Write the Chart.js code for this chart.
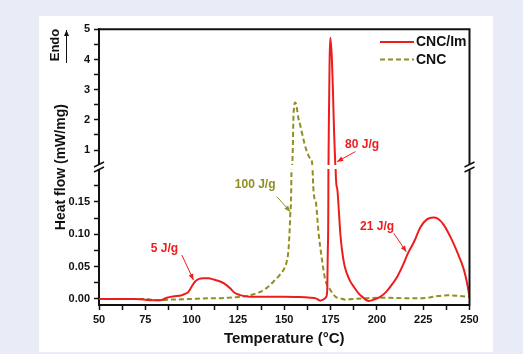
<!DOCTYPE html>
<html>
<head>
<meta charset="utf-8">
<script src="https://cdn.jsdelivr.net/npm/chart.js@4.4.0/dist/chart.umd.min.js"></script>
<style>
  html, body { margin: 0; padding: 0; width: 523px; height: 354px; overflow: hidden; background: #e8ecf6; }
  #wrap { position: absolute; left: 39px; top: 16px; width: 454px; height: 336px; background: #fff; }
</style>
</head>
<body>
<div id="wrap"><canvas id="dsc" width="454" height="336"></canvas></div>
<script>
// DSC curves (temperature in °C, heat flow in mW/mg)
const tempCncIm = [50, 60, 70, 75, 78, 83, 86.6, 90, 94.7, 96.5, 98.3, 100, 101.9, 104, 106.5, 109, 112, 115.4, 117.5, 120.8,
  123, 126.2, 131.6, 142, 150, 158, 164, 167, 169.5, 171, 172.7, 173.2, 173.55, 173.85, 173.95, 174.1, 174.5, 174.9, 175.7, 176.3,
  176.9, 177.5, 177.75, 178.5, 179.5, 180.3, 181.2, 182.5, 184, 185.5, 187.5, 190, 192, 195.5, 198.5, 202, 205, 207.3, 211, 214,
  217, 220, 223.5, 227, 230.5, 233, 236, 239.7, 243, 247, 249, 250];
const flowCncIm = [0, 0, 0, -0.001, -0.002, -0.002, 0.002, 0.004, 0.0057, 0.008, 0.011, 0.019, 0.027, 0.031, 0.032, 0.032, 0.03, 0.027, 0.024, 0.0165,
  0.01, 0.006, 0.0036, 0.0036, 0.0036, 0.003, 0.002, 0.001, -0.0026, -0.001, 0.0036, 0.014, 0.08, 0.21, 1.0, 2.0, 4.04, 4.72, 4.04, 2.93,
  1.6, 0.62, 0.2, 0.172, 0.135, 0.1, 0.075, 0.052, 0.038, 0.028, 0.019, 0.009, 0.0036, -0.003, -0.001, 0.0036, 0.011, 0.019, 0.0345, 0.052,
  0.072, 0.088, 0.111, 0.123, 0.126, 0.124, 0.115, 0.096, 0.075, 0.045, 0.02, 0.003];

const tempCnc = [50, 60, 70, 75, 78, 82, 88, 95, 100, 110, 115, 120, 125, 129.8, 133, 137, 141, 144.2, 147.5, 150.5,
  151.5, 152.3, 152.8, 153.2, 153.8, 154.1, 154.6, 155, 156, 156.8, 157.5, 158.6, 159.6, 161, 162.2, 164, 165, 165.3, 166.8, 168.6,
  170.4, 172.2, 174.9, 177.6, 180.3, 183, 187, 193, 202, 210, 220, 226, 229, 233, 238, 243, 250];
const flowCnc = [0, 0, 0, 0, -0.001, -0.002, -0.001, -0.0005, 0, 0.001, 0.001, 0.002, 0.003, 0.0046, 0.007, 0.011, 0.018, 0.027, 0.037, 0.05,
  0.06, 0.076, 0.1, 0.127, 0.179, 0.3, 1.0, 2.16, 2.58, 2.4, 2.1, 1.83, 1.56, 1.2, 0.95, 0.72, 0.6, 0.2, 0.153, 0.1,
  0.06, 0.029, 0.014, 0.0036, 0.001, -0.001, 0, 0.001, 0.002, 0.0015, 0.001, 0.0015, 0.0026, 0.0045, 0.0057, 0.005, 0.003];

const seriesNames = ['CNC/Im', 'CNC'];
const xTicks = [50, 62.5, 75, 87.5, 100, 112.5, 125, 137.5, 150, 162.5, 175, 187.5, 200, 212.5, 225, 237.5, 250];
const yLowTicks = [0, 0.025, 0.05, 0.075, 0.1, 0.125, 0.15, 0.175];
const yHighTicks = [1, 1.5, 2, 2.5, 3, 3.5, 4, 4.5, 5];

const RED = '#ee1d1d';
const OLIVE = '#8f8f24';
const INK = '#111';
const FONT = "'Liberation Sans', Arial, sans-serif";

function pts(xs, ys) {
  return xs.map((x, i) => ({ x: x, y: ys[i] }));
}

// each curve is drawn twice, once per half of the broken y axis
function curve(name, xs, ys, color, dash, axis) {
  return {
    label: name,
    data: pts(xs, ys),
    yAxisID: axis,
    borderColor: color,
    borderWidth: 2,
    borderDash: dash,
    pointRadius: 0,
    cubicInterpolationMode: 'monotone',
    fill: false
  };
}

const annotations = [
  { text: '5 J/g', color: RED, axis: 'yLow', at: [85.3, 0.078], from: [94.7, 0.068], to: [101, 0.0294] },
  { text: '100 J/g', color: OLIVE, axis: 'yLow', at: [134.3, 0.176], from: [146.1, 0.158], to: [153.2, 0.135] },
  { text: '80 J/g', color: RED, axis: 'yHigh', at: [192, 1.17], from: [188.4, 0.95], to: [178.5, 0.616] },
  { text: '21 J/g', color: RED, axis: 'yLow', at: [200.1, 0.112], from: [209.1, 0.1016], to: [215.9, 0.073] }
];

function arrow(ctx, x1, y1, x2, y2, color) {
  ctx.strokeStyle = color;
  ctx.fillStyle = color;
  ctx.lineWidth = 1;
  ctx.setLineDash([]);
  ctx.beginPath();
  ctx.moveTo(x1, y1);
  ctx.lineTo(x2, y2);
  ctx.stroke();
  const a = Math.atan2(y2 - y1, x2 - x1), L = 6, W = 2.5;
  ctx.beginPath();
  ctx.moveTo(x2, y2);
  ctx.lineTo(x2 - L * Math.cos(a) + W * Math.sin(a), y2 - L * Math.sin(a) - W * Math.cos(a));
  ctx.lineTo(x2 - L * Math.cos(a) - W * Math.sin(a), y2 - L * Math.sin(a) + W * Math.cos(a));
  ctx.closePath();
  ctx.fill();
}

const brokenAxis = {
  id: 'brokenAxis',
  beforeDatasetDraw(chart, args) {
    const ds = chart.data.datasets[args.index];
    const a = chart.chartArea;
    const s = chart.scales[ds.yAxisID];
    const top = ds.yAxisID === 'yLow' ? s.top + 2 : a.top - 4;
    const bottom = ds.yAxisID === 'yHigh' ? s.bottom - 2 : a.bottom + 4;
    const ctx = chart.ctx;
    ctx.save();
    ctx.beginPath();
    ctx.rect(a.left - 3, top, a.right - a.left + 6, bottom - top);
    ctx.clip();
  },
  afterDatasetDraw(chart) {
    chart.ctx.restore();
  },
  afterDraw(chart) {
    const ctx = chart.ctx;
    const a = chart.chartArea;
    const x = chart.scales.x;
    ctx.save();

    // top and right sides of the frame
    ctx.strokeStyle = INK;
    ctx.lineWidth = 2;
    ctx.setLineDash([]);
    ctx.beginPath();
    ctx.moveTo(a.left - 1, a.top);
    ctx.lineTo(a.right, a.top);
    ctx.lineTo(a.right, a.bottom + 1);
    ctx.stroke();

    // axis break marks
    const yb = chart.scales.yHigh.bottom;
    [a.left, a.right].forEach(bx => {
      ctx.fillStyle = '#fff';
      ctx.fillRect(bx - 3, yb - 2.5, 6, 5);
      ctx.strokeStyle = INK;
      ctx.lineWidth = 1.5;
      [-2.5, 2.5].forEach(d => {
        ctx.beginPath();
        ctx.moveTo(bx - 5, yb + d + 2.5);
        ctx.lineTo(bx + 5, yb + d - 2.5);
        ctx.stroke();
      });
    });

    // legend
    const colors = [RED, OLIVE];
    const dashes = [[], [5, 3]];
    ctx.font = 'bold 14px ' + FONT;
    ctx.textBaseline = 'middle';
    ctx.textAlign = 'left';
    seriesNames.forEach((name, i) => {
      const ly = 26 + i * 17.5;
      ctx.strokeStyle = colors[i];
      ctx.lineWidth = 2;
      ctx.setLineDash(dashes[i]);
      ctx.beginPath();
      ctx.moveTo(341, ly);
      ctx.lineTo(375, ly);
      ctx.stroke();
      ctx.setLineDash([]);
      ctx.fillStyle = INK;
      ctx.fillText(name, 377, ly + 0.5);
    });

    // enthalpy labels
    ctx.font = 'bold 12px ' + FONT;
    ctx.textAlign = 'center';
    annotations.forEach(n => {
      const s = chart.scales[n.axis];
      arrow(ctx, x.getPixelForValue(n.from[0]), s.getPixelForValue(n.from[1]),
        x.getPixelForValue(n.to[0]), s.getPixelForValue(n.to[1]), n.color);
      ctx.fillStyle = n.color;
      ctx.fillText(n.text, x.getPixelForValue(n.at[0]), s.getPixelForValue(n.at[1]));
    });

    // y title spanning both halves, plus the Endo arrow
    ctx.fillStyle = INK;
    ctx.font = 'bold 14px ' + FONT;
    ctx.save();
    ctx.translate(22, (a.top + a.bottom) / 2);
    ctx.rotate(-Math.PI / 2);
    ctx.fillText('Heat flow (mW/mg)', 0, 0);
    ctx.restore();
    ctx.save();
    ctx.font = 'bold 13px ' + FONT;
    ctx.translate(16, 29);
    ctx.rotate(-Math.PI / 2);
    ctx.fillText('Endo', 0, 0);
    ctx.restore();
    arrow(ctx, 27.5, 47, 27.5, 14, INK);

    ctx.restore();
  }
};

const tickFont = { family: FONT, size: 11, weight: 'bold' };
const axisGrid = { drawOnChartArea: false, drawTicks: true, tickLength: 5, tickColor: INK, tickWidth: 1.5 };
const axisBorder = { display: true, color: INK, width: 2 };

new Chart(document.getElementById('dsc'), {
  type: 'line',
  data: {
    datasets: [
      curve(seriesNames[0], tempCncIm, flowCncIm, RED, [], 'yHigh'),
      curve(seriesNames[0], tempCncIm, flowCncIm, RED, [], 'yLow'),
      curve(seriesNames[1], tempCnc, flowCnc, OLIVE, [5, 3], 'yHigh'),
      curve(seriesNames[1], tempCnc, flowCnc, OLIVE, [5, 3], 'yLow')
    ]
  },
  options: {
    responsive: false,
    animation: false,
    layout: { padding: { left: 0, right: 23.5, top: 13.3, bottom: 0 } },
    plugins: { legend: { display: false }, tooltip: { enabled: false } },
    scales: {
      x: {
        type: 'linear',
        min: 50,
        max: 250,
        afterBuildTicks: s => { s.ticks = xTicks.map(v => ({ value: v })); },
        afterFit: s => { s.height = 47; },
        ticks: { color: INK, font: tickFont, padding: 3, maxRotation: 0, autoSkip: false,
          callback: v => (v % 25 === 0 ? String(v) : '') },
        grid: axisGrid,
        border: axisBorder,
        title: { display: true, text: 'Temperature (°C)', color: INK,
          font: { family: FONT, size: 15, weight: 'bold' }, padding: { top: 2, bottom: 4 } }
      },
      yLow: {
        type: 'linear',
        position: 'left',
        stack: 'heat',
        stackWeight: 138,
        min: -0.0093,
        max: 0.204,
        afterBuildTicks: s => { s.ticks = yLowTicks.map(v => ({ value: v })); },
        afterFit: s => { s.width = 60; },
        ticks: { color: INK, font: tickFont, padding: 4, autoSkip: false,
          callback: v => (Math.round(v * 1000) % 50 === 0 ? v.toFixed(2) : '') },
        grid: axisGrid,
        border: axisBorder
      },
      yHigh: {
        type: 'linear',
        position: 'left',
        stack: 'heat',
        stackWeight: 137.7,
        min: 0.44,
        max: 5,
        afterBuildTicks: s => { s.ticks = yHighTicks.map(v => ({ value: v })); },
        afterFit: s => { s.width = 60; },
        ticks: { color: INK, font: tickFont, padding: 4, autoSkip: false,
          callback: v => (Number.isInteger(v) ? String(v) : '') },
        grid: axisGrid,
        border: axisBorder
      }
    }
  },
  plugins: [brokenAxis]
});
</script>
</body>
</html>
